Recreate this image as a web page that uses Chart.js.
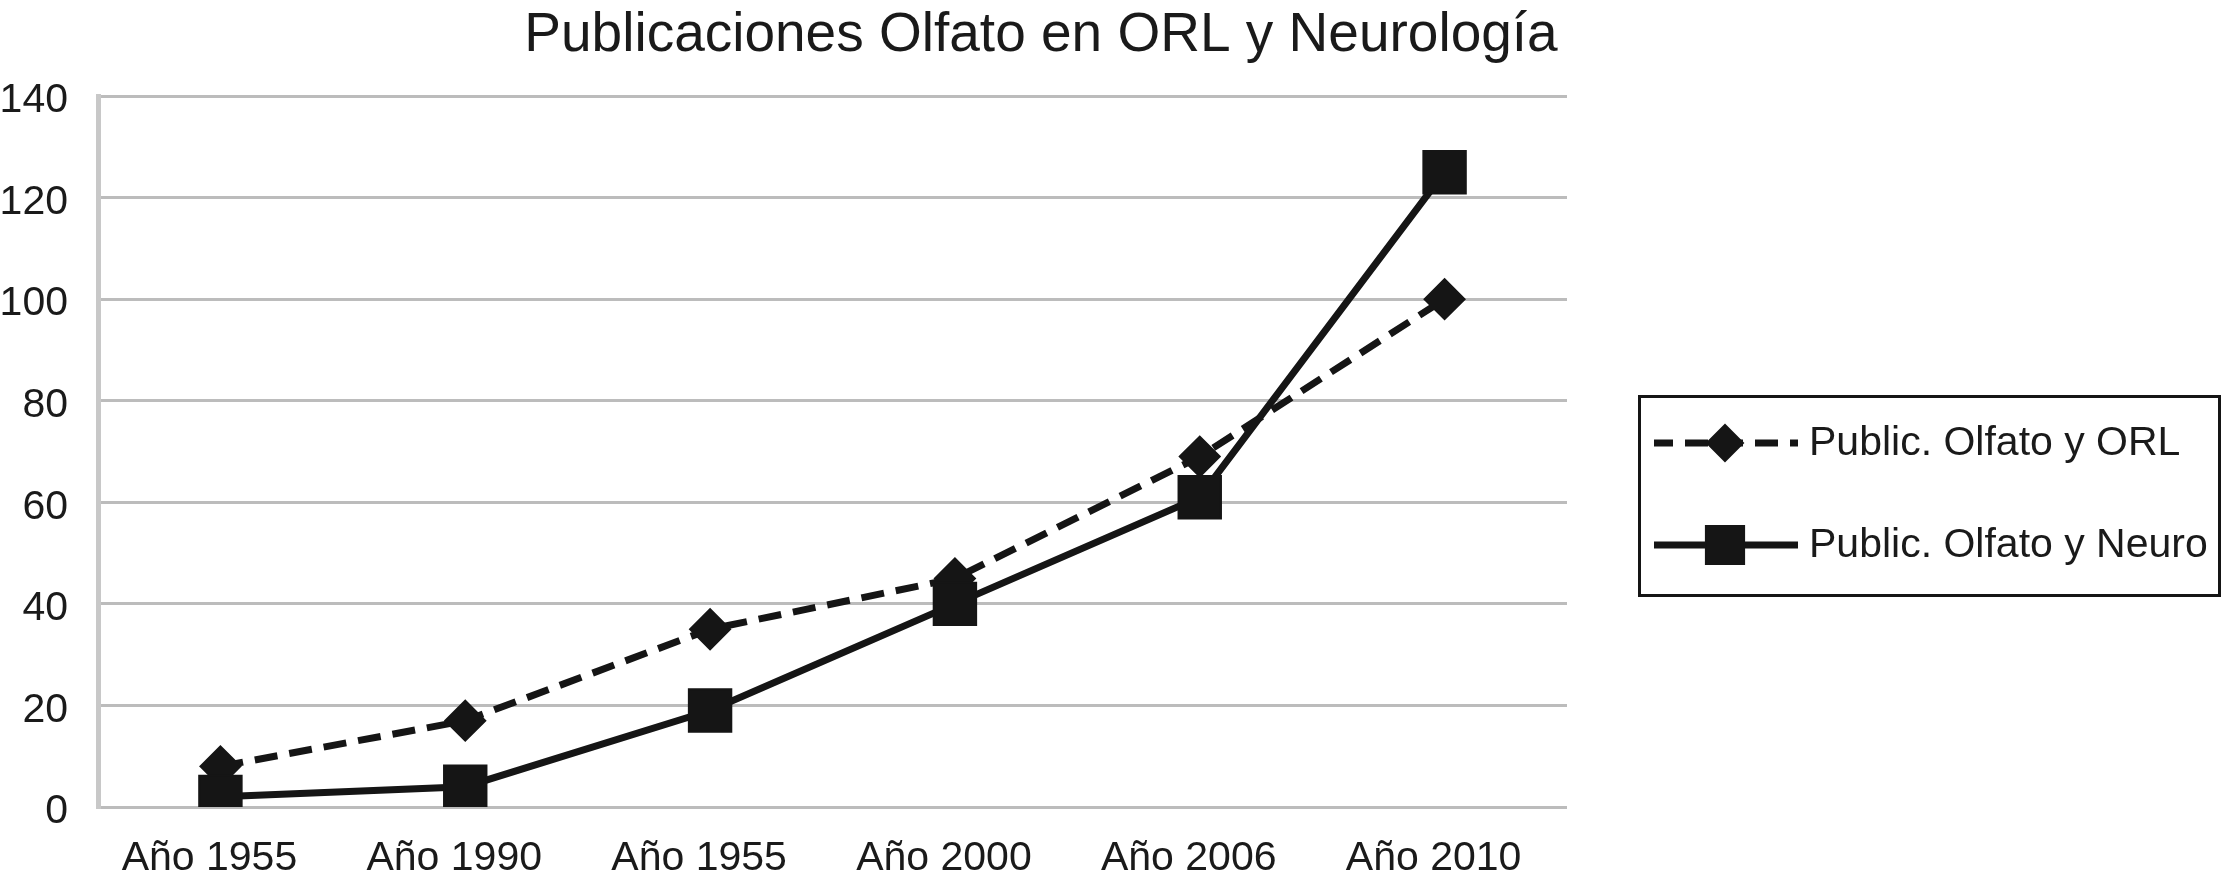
<!DOCTYPE html>
<html>
<head>
<meta charset="utf-8">
<script src="https://cdn.jsdelivr.net/npm/chart.js@4.4.1/dist/chart.umd.min.js"></script>
<style>
  html, body { margin: 0; padding: 0; background: #ffffff; }
  #wrap { width: 2223px; height: 880px; position: relative; }
</style>
</head>
<body>
<div id="wrap"><canvas id="c" width="2223" height="880"></canvas></div>
<script>
const chartTitle = 'Publicaciones Olfato en ORL y Neurología';
const categories = ['Año 1955', 'Año 1990', 'Año 1955', 'Año 2000', 'Año 2006', 'Año 2010'];
const seriesORL = [8, 17, 35, 45, 69, 100];
const seriesNeuro = [2, 4, 19, 40, 61, 125];
const labelORL = 'Public. Olfato y ORL';
const labelNeuro = 'Public. Olfato y Neuro';
const yTicks = [0, 20, 40, 60, 80, 100, 120, 140];

const FONT = "'Liberation Sans', Arial, Helvetica, sans-serif";
const INK = '#1a1a1a';

const titlePlugin = {
  id: 'customTitle',
  afterDraw(chart) {
    const ctx = chart.ctx;
    ctx.save();
    ctx.font = '55px ' + FONT;
    ctx.fillStyle = INK;
    ctx.textAlign = 'center';
    ctx.textBaseline = 'alphabetic';
    ctx.fillText(chartTitle, 1041, 51);
    ctx.restore();
  }
};

const legendPlugin = {
  id: 'customLegend',
  afterDraw(chart) {
    const ctx = chart.ctx;
    ctx.save();
    ctx.strokeStyle = '#151515';
    ctx.lineWidth = 3;
    ctx.strokeRect(1639.5, 396.5, 580, 199);
    const x0 = 1654, x1 = 1798, xm = 1725;
    const items = [
      { ds: chart.data.datasets[0], y: 443 },
      { ds: chart.data.datasets[1], y: 545 }
    ];
    items.forEach(it => {
      const ds = it.ds;
      ctx.strokeStyle = ds.borderColor;
      ctx.lineWidth = ds.borderWidth;
      ctx.setLineDash(ds.borderDash || []);
      ctx.lineDashOffset = ds.borderDash ? 4 : 0;
      ctx.beginPath();
      ctx.moveTo(x0, it.y);
      ctx.lineTo(x1, it.y);
      ctx.stroke();
      ctx.setLineDash([]);
      ctx.fillStyle = ds.pointBackgroundColor;
      ctx.strokeStyle = ds.pointBorderColor;
      ctx.lineWidth = ds.pointBorderWidth;
      Chart.helpers.drawPoint(ctx, {
        pointStyle: ds.pointStyle,
        radius: ds.pointRadius * 0.9,
        borderWidth: ds.pointBorderWidth,
        rotation: 0
      }, xm, it.y);
      ctx.font = '41px ' + FONT;
      ctx.fillStyle = INK;
      ctx.textAlign = 'left';
      ctx.textBaseline = 'middle';
      ctx.fillText(ds.label, 1809, it.y + 1);
    });
    ctx.restore();
  }
};

new Chart(document.getElementById('c'), {
  type: 'line',
  data: {
    labels: categories,
    datasets: [
      {
        label: labelORL,
        data: seriesORL,
        order: 2,
        borderColor: '#151515',
        backgroundColor: '#151515',
        borderWidth: 7,
        borderDash: [23, 12],
        tension: 0,
        fill: false,
        pointStyle: 'rectRot',
        pointRadius: 20,
        pointBorderWidth: 2,
        pointBackgroundColor: '#151515',
        pointBorderColor: '#151515'
      },
      {
        label: labelNeuro,
        data: seriesNeuro,
        order: 1,
        borderColor: '#151515',
        backgroundColor: '#151515',
        borderWidth: 7,
        tension: 0,
        fill: false,
        pointStyle: 'rect',
        pointRadius: 30,
        pointBorderWidth: 2,
        pointBackgroundColor: '#151515',
        pointBorderColor: '#151515'
      }
    ]
  },
  options: {
    responsive: false,
    animation: false,
    events: [],
    layout: { padding: { top: 96, right: 656, left: 0, bottom: 0 } },
    plugins: {
      legend: { display: false },
      title: { display: false },
      tooltip: { enabled: false }
    },
    scales: {
      x: {
        type: 'category',
        offset: true,
        grid: { display: false, drawTicks: false },
        border: { display: false },
        ticks: {
          color: INK,
          font: { family: FONT, size: 41 },
          padding: 27,
          labelOffset: -11,
          maxRotation: 0,
          autoSkip: false
        },
        afterFit(scale) { scale.height = 73; }
      },
      y: {
        min: 0,
        max: 140,
        afterBuildTicks(scale) { scale.ticks = yTicks.map(v => ({ value: v })); },
        grid: { color: '#bcbcbc', lineWidth: 3, drawTicks: false },
        border: { display: true, color: '#c8c8c8', width: 5 },
        ticks: {
          color: INK,
          font: { family: FONT, size: 41 },
          padding: 30,
          labelOffset: 5
        },
        afterFit(scale) { scale.width = 98; }
      }
    }
  },
  plugins: [titlePlugin, legendPlugin]
});
</script>
</body>
</html>
